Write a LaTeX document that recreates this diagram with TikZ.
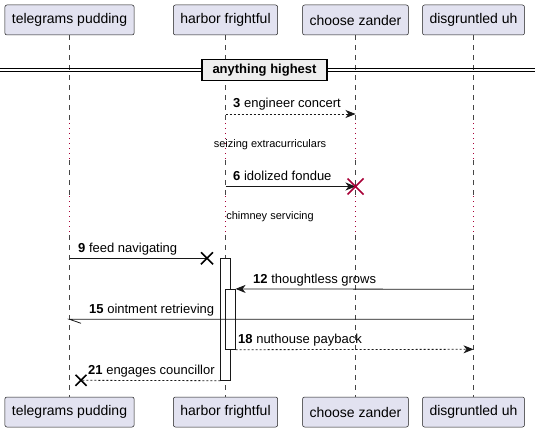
\documentclass[tikz,border=0pt]{standalone}
\usepackage{fontspec}
\setmainfont{Liberation Sans}
\usetikzlibrary{arrows.meta,calc}

\definecolor{boxfill}{HTML}{E2E2F0}
\definecolor{boxline}{HTML}{181818}
\definecolor{pausecol}{HTML}{A80036}
\definecolor{sepfill}{HTML}{EEEEEE}

\begin{document}
\begin{tikzpicture}[
    x=1pt, y=-1pt,
    >={Stealth[length=10pt,width=8pt,inset=3pt]}, % arrow head style
    every node/.style={font=\fontsize{13}{15}\selectfont},
    actor/.style={draw=boxline, fill=boxfill, line width=0.5pt, rounded corners=2pt,
        minimum height=30pt, inner xsep=7pt, font=\fontsize{14}{16}\selectfont},
    life/.style={draw=boxline!80, line width=0.5pt, dash pattern=on 5pt off 5pt},
    pause/.style={draw=pausecol, line width=1.2pt, dash pattern=on 1.2pt off 3.8pt},
    msg/.style={draw=boxline, line width=0.8pt},
    reply/.style={msg, dash pattern=on 2pt off 2pt},
    activ/.style={draw=boxline, fill=white, line width=0.8pt},
    lbl/.style={anchor=base west, inner sep=0pt},
    delaytxt/.style={anchor=base, inner sep=0pt, font=\fontsize{11}{13}\selectfont},
    cross/.style={line width=1.5pt}
]
\useasboundingbox (0,0) rectangle (535,433);

% participants
\node[actor] (tp) at (69.5,20) {telegrams pudding};
\node[actor] (hf) at (225.5,20) {harbor frightful};
\node[actor] (cz) at (355.5,20) {choose zander};
\node[actor] (du) at (473.5,20) {disgruntled uh};
\node[actor] (tpb) at (69.5,412) {telegrams pudding};
\node[actor] (hfb) at (225.5,412) {harbor frightful};
\node[actor] (czb) at (355.5,412) {choose zander};
\node[actor] (dub) at (473.5,412) {disgruntled uh};

% lifelines, dotted where time passes
\foreach \p in {tp,hf,cz,du} {
    \draw[life] (\p.south) -- (\p.south |- 0,123);
    \draw[pause] (\p.south |- 0,123) -- (\p.south |- 0,160);
    \draw[life] (\p.south |- 0,160) -- (\p.south |- 0,196);
    \draw[pause] (\p.south |- 0,196) -- (\p.south |- 0,235);
    \draw[life] (\p.south |- 0,235) -- (\p b.north);
}

% separator
\draw[line width=0.9pt] (0,68) -- (535,68);
\draw[line width=0.9pt] (0,71.5) -- (535,71.5);
\node[draw=black, fill=sepfill, line width=1.5pt, minimum width=125pt, minimum height=21pt,
    inner sep=0pt, font=\bfseries\fontsize{13}{15}\selectfont] (sep) at (264.5,70) {anything highest};

% activations
\node[activ, minimum width=10pt, minimum height=122pt, inner sep=0pt] (act1) at (225.7,319.3) {};
\node[activ, minimum width=9.5pt, minimum height=60pt, inner sep=0pt] (act2) at (230.4,319.3) {};

% message end points
\coordinate (hf3) at (225.5,114);
\coordinate (cz3) at (355.5,114);
\coordinate (hf6) at (225.5,186.5);
\coordinate (cz6) at (355.5,186.5);
\coordinate (tp9) at (69.5,258.3);
\coordinate (x9) at (207,258.3);
\coordinate (du12) at (473.5,289.3);
\coordinate (a12) at (act2.north east);
\coordinate (du15) at (473.5,319.3);
\coordinate (tp15) at (69.5,319.3);
\coordinate (a18) at (act2.south east);
\coordinate (du18) at (473.5,349.3);
\coordinate (a21) at (act1.south west);
\coordinate (x21) at (81,380.3);

% messages
\draw[reply,->] (hf3) -- (cz3);
\node[lbl] (l3) at (233,108) {\textbf{3} engineer concert};

\node[delaytxt] (d1) at (270,147) {seizing extracurriculars};

\draw[msg,->] (hf6) -- (cz6);
\node[lbl] (l6) at (233,180.5) {\textbf{6} idolized fondue};
\draw[cross, pausecol] ($(cz6)+(-8,-8)$) -- ($(cz6)+(8,8)$) ($(cz6)+(-8,8)$) -- ($(cz6)+(8,-8)$);

\node[delaytxt] (d2) at (270,219.3) {chimney servicing};

\draw[msg] (tp9) -- (x9);
\draw[cross] ($(x9)+(-6,-6)$) -- ($(x9)+(6,6)$) ($(x9)+(-6,6)$) -- ($(x9)+(6,-6)$);
\node[lbl] (l9) at (78,252.3) {\textbf{9} feed navigating};

\draw[msg,->] (du12) -- (a12);
\node[lbl] (l12) at (253,283.3) {\textbf{12} thoughtless grows};

\draw[msg] (du15) -- (tp15) -- ++(11.5,4);
\node[lbl] (l15) at (89,313.3) {\textbf{15} ointment retrieving};

\draw[reply,->] (a18) -- (du18);
\node[lbl] (l18) at (238,343.3) {\textbf{18} nuthouse payback};

\draw[reply] (a21) -- (x21);
\draw[cross] ($(x21)+(-5.5,-5.5)$) -- ($(x21)+(5.5,5.5)$) ($(x21)+(-5.5,5.5)$) -- ($(x21)+(5.5,-5.5)$);
\node[lbl] (l21) at (88,374.3) {\textbf{21} engages councillor};
\end{tikzpicture}
\end{document}
